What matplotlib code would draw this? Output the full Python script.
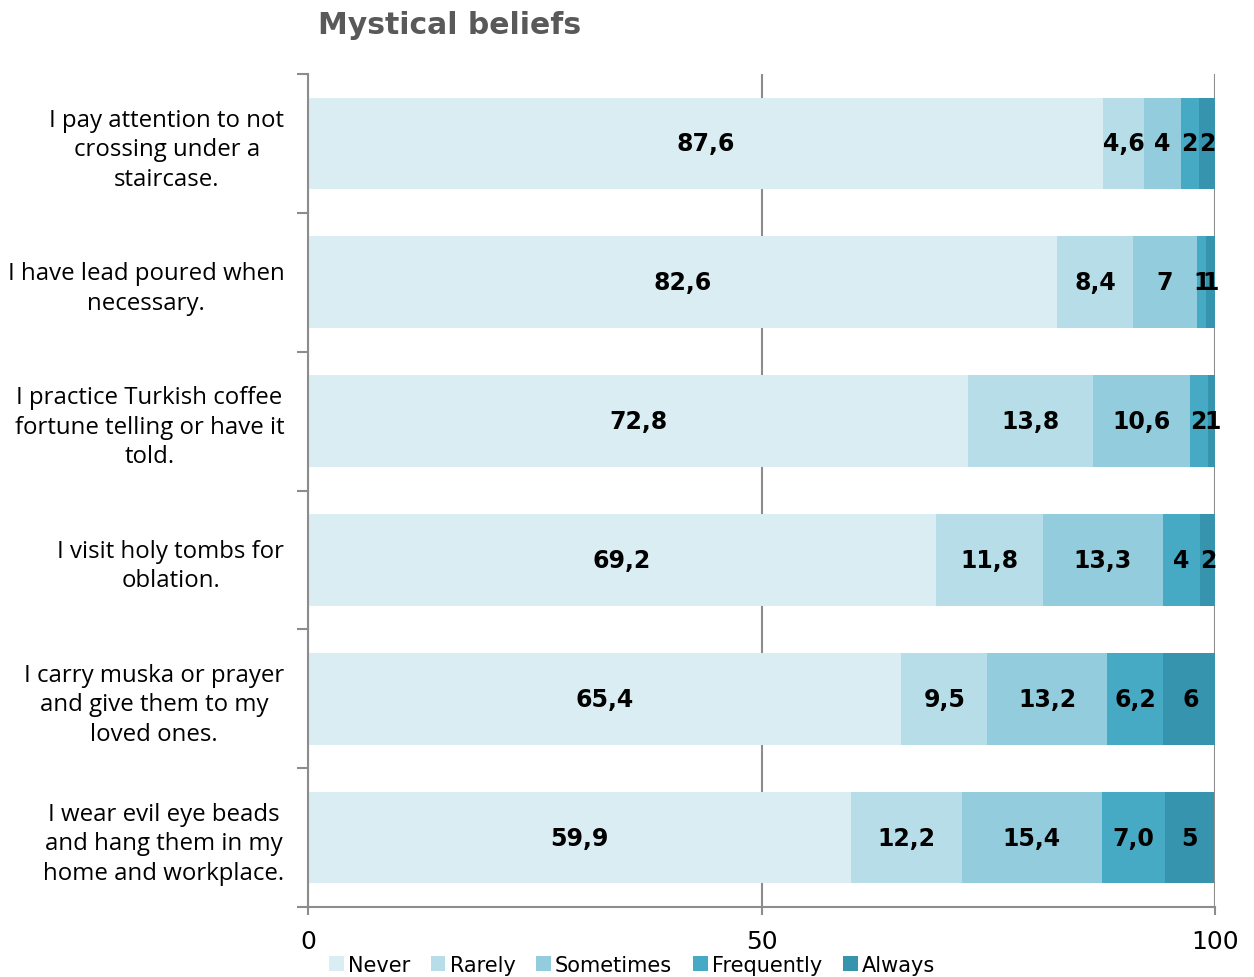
import numpy as np
import matplotlib.pyplot as plt
from matplotlib.patches import Patch

# Data
statements = [
    "I pay attention to not\ncrossing under a\nstaircase.",
    "I have lead poured when\nnecessary.",
    "I practice Turkish coffee\nfortune telling or have it\ntold.",
    "I visit holy tombs for\noblation.",
    "I carry muska or prayer\nand give them to my\nloved ones.",
    "I wear evil eye beads\nand hang them in my\nhome and workplace.",
]
categories = ["Never", "Rarely", "Sometimes", "Frequently", "Always"]
never = [87.6, 82.6, 72.8, 69.2, 65.4, 59.9]
rarely = [4.6, 8.4, 13.8, 11.8, 9.5, 12.2]
sometimes = [4, 7, 10.6, 13.3, 13.2, 15.4]
frequently = [2, 1, 2, 4, 6.2, 7.0]
always = [2, 1, 1, 2, 6, 5.4]
labels = [
    ["87,6", "4,6", "4", "2", "2"],
    ["82,6", "8,4", "7", "1", "1"],
    ["72,8", "13,8", "10,6", "2", "1"],
    ["69,2", "11,8", "13,3", "4", "2"],
    ["65,4", "9,5", "13,2", "6,2", "6"],
    ["59,9", "12,2", "15,4", "7,0", "5"],
]
colors = ["#daedf3", "#b7dee8", "#93cddd", "#47aac4", "#3794ae"]

series = [never, rarely, sometimes, frequently, always]

fig = plt.figure(figsize=(12.54, 9.78), dpi=100)
ax = fig.add_axes([308/1254, 1-908/978, (1215-308)/1254, (908-75)/978])

y = np.arange(len(statements))
left = np.zeros(len(statements))
for i, (vals, col) in enumerate(zip(series, colors)):
    vals = np.array(vals, dtype=float)
    ax.barh(y, vals, left=left, height=0.66, color=col, zorder=2, label=categories[i])
    for j in range(len(y)):
        ax.text(left[j] + vals[j] / 2, y[j], labels[j][i], ha="center", va="center",
                fontsize=17, fontweight="heavy", family="DejaVu Sans", color="black", zorder=4)
    left += vals

ax.set_xlim(0, 100)
ax.set_ylim(len(statements) - 0.5, -0.5)
ax.set_xticks([0, 50, 100])
ax.set_xticklabels(["0", "50", "100"], fontsize=18, family="DejaVu Sans")
ax.tick_params(axis="x", length=6, color="#8c8c8c", width=1.5, pad=10)

ax.set_yticks(y)
ax.set_yticklabels(statements, fontsize=17.3, family="Open Sans", linespacing=1.3)
for t in ax.get_yticklabels():
    t.set_multialignment("center")
ax.tick_params(axis="y", length=0, pad=17)
ax.set_yticks(np.arange(-0.5, len(statements)), minor=True)
ax.tick_params(axis="y", which="minor", length=8, color="#8c8c8c", width=1.5)

# vertical gridlines
ax.grid(axis="x", color="#8c8c8c", linewidth=1.5, zorder=0)
ax.set_axisbelow(True)

for s in ["top", "right"]:
    ax.spines[s].set_visible(False)
for s in ["left", "bottom"]:
    ax.spines[s].set_color("#8c8c8c")
    ax.spines[s].set_linewidth(1.5)

fig.text(318/1254, 1-26/978, "Mystical beliefs", fontsize=21.5, fontweight="heavy", family="DejaVu Sans",
         color="#595959", ha="left", va="center")

handles = [Patch(facecolor=c, label=n) for c, n in zip(colors, categories)]
fig.legend(handles=handles, loc="center", bbox_to_anchor=(632/1254, 1-966/978), ncol=5,
           frameon=False, handlelength=0.7, handleheight=0.7, handletextpad=0.2,
           columnspacing=1.0, prop={"family": "DejaVu Sans", "size": 15})

fig.savefig("out.png", dpi=100)
